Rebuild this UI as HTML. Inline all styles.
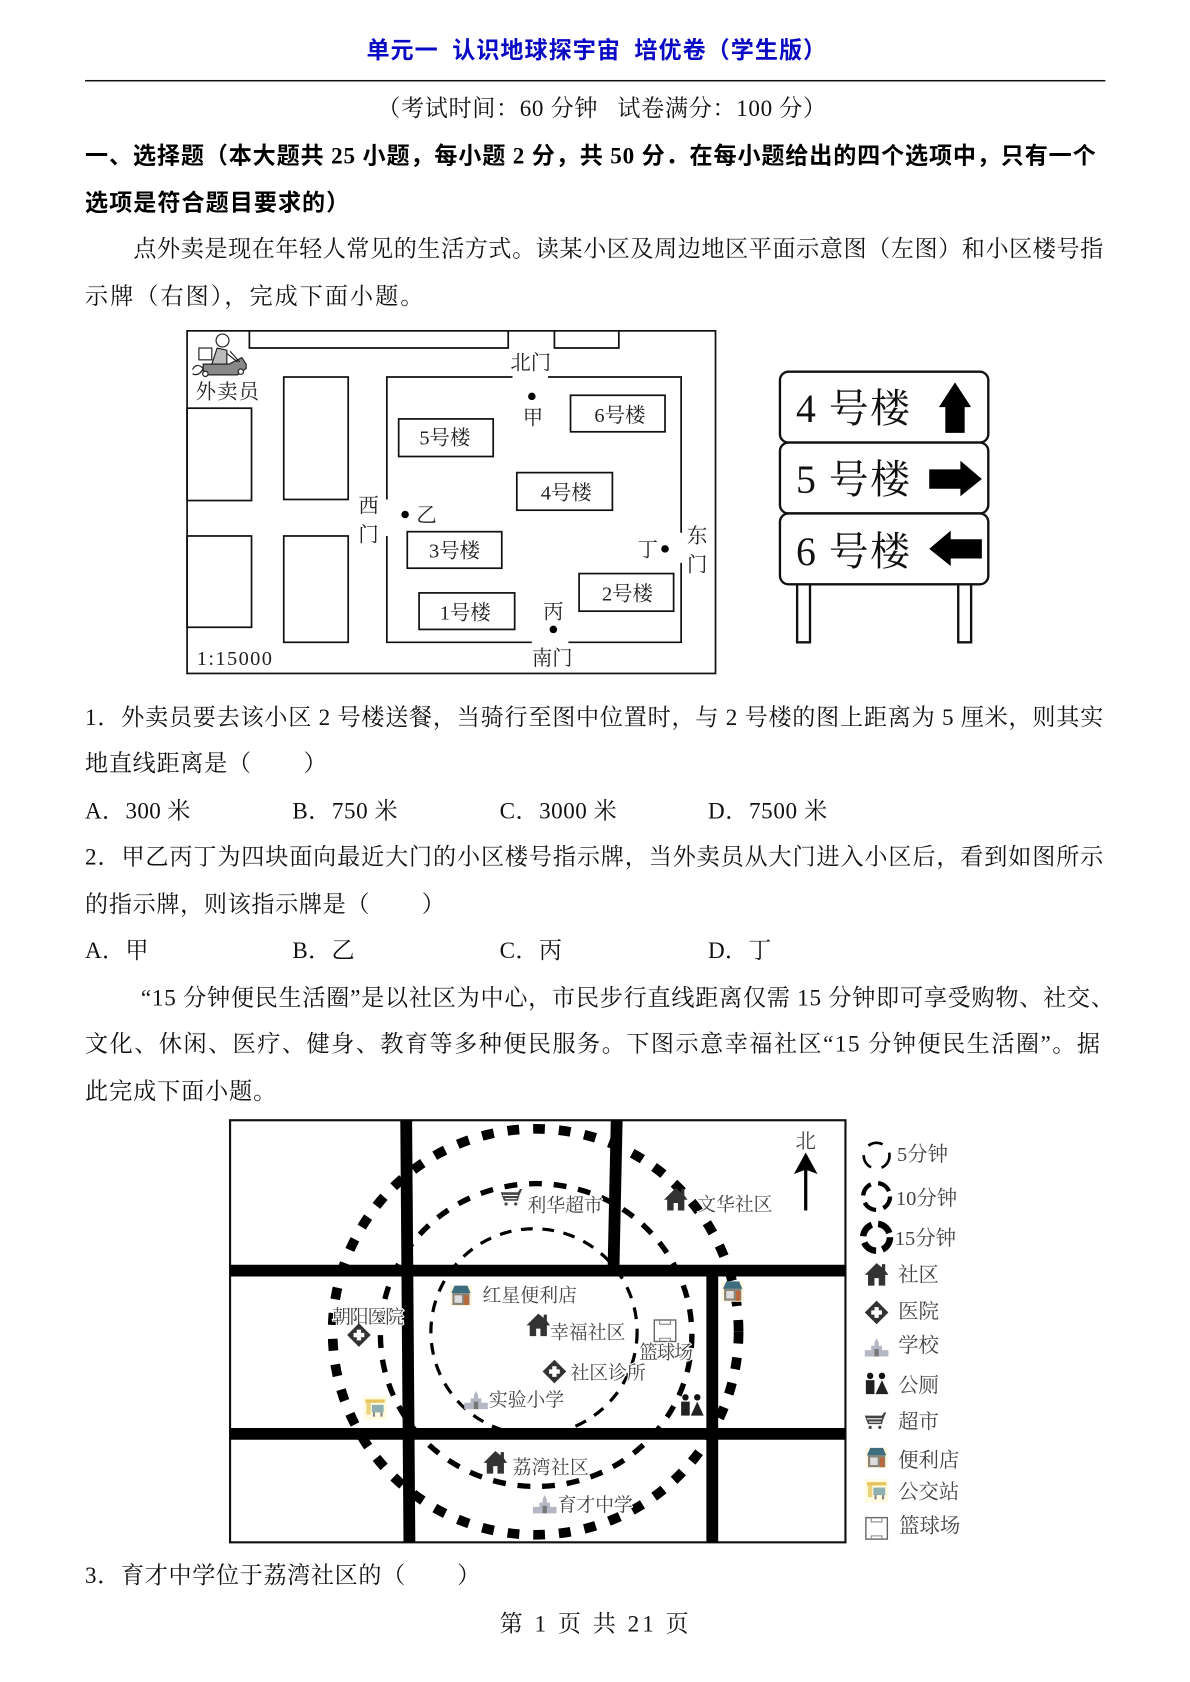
<!DOCTYPE html>
<html lang="zh"><head><meta charset="utf-8"><title>单元一 认识地球探宇宙 培优卷</title>
<style>
html,body{margin:0;padding:0;background:#fff;width:1190px;height:1682px;overflow:hidden}
svg{display:block}
text{font-family:"Liberation Serif","Noto Serif CJK SC",serif;font-size:21.5px;fill:#111;white-space:pre}
.b{font-weight:bold;font-family:"Liberation Serif","Noto Sans CJK SC",serif;fill:#000}
.m{font-size:19px;fill:#222}
.g{font-size:17.5px;fill:#444;stroke:#fff;stroke-width:2px;paint-order:stroke}
.l{font-size:19px;fill:#444}
.s{font-size:37px;fill:#111}
.w{fill:none;stroke:#111;stroke-width:1.6}
.r{stroke:#000;stroke-width:11;fill:none}
</style></head><body>
<svg width="1190" height="1682" viewBox="0 0 1108 1566" xmlns="http://www.w3.org/2000/svg">
<defs>
<g id="house"><path d="M-11 0L0-11 5-7V-10H8V-4L11 0H8V10H2V3H-2V10H-8V0Z" fill="#333"/></g>
<g id="cross"><path d="M0-11L11 0 0 11-11 0Z" fill="#333"/><path d="M-2-5H2V-2H5V2H2V5H-2V2H-5V-2H-2Z" fill="#fff"/></g>
<g id="cart"><path d="M-9-6H7L9-9H11L8-2 7 2H-6L-9-6Z" fill="#444"/><path d="M-7-3H7M-5 0H6" stroke="#fff" stroke-width="1"/><circle cx="-4" cy="5" r="1.5" fill="#444"/><circle cx="5" cy="5" r="1.5" fill="#444"/></g>
<g id="school"><path d="M-11 9H11V3H5V-1H2V-4L0-8-2-4V-1H-5V3H-11Z" fill="#b5b8c4"/><path d="M-2 2H2V9H-2Z" fill="#777"/></g>
<g id="shop"><rect x="-10" y="-9" width="20" height="19" fill="#fff6dd"/><path d="M-9-2L-6-9H6L9-2Z" fill="#3d6e80"/><rect x="-8" y="-2" width="16" height="11" fill="#8a8378"/><rect x="-6" y="0" width="7" height="7" fill="#ddd"/><rect x="3" y="0" width="4" height="9" fill="#b8683a"/></g>
<g id="bus"><rect x="-11" y="-11" width="22" height="22" fill="#fffbe0"/><rect x="-9" y="-8" width="18" height="3" fill="#e6c45c"/><rect x="-8" y="-5" width="4" height="11" fill="#edd27e"/><rect x="-3" y="-3" width="11" height="7" fill="#8fb0b2"/><rect x="-2" y="4" width="2" height="4" fill="#888"/><rect x="5" y="4" width="2" height="4" fill="#888"/></g>
<g id="court"><rect x="-10" y="-10" width="20" height="20" fill="#fff" stroke="#666" stroke-width="1.3"/><path d="M-5-10V-6H5V-10M-5 10V7H5V10" fill="none" stroke="#888"/></g>
<g id="wc"><circle cx="-6" cy="-8" r="3" fill="#111"/><rect x="-10" y="-4" width="8" height="13" fill="#222"/><circle cx="5" cy="-8" r="3" fill="#111"/><path d="M5-4L11 9H-1Z" fill="#222"/></g>
</defs>

<rect width="1108" height="1566" fill="#fff"/>
<g transform="translate(-0.8,0)">
<text x="342" y="54" textLength="428" class="b" style="fill:#0a0ac4">单元一  认识地球探宇宙  培优卷（学生版）</text>
<rect x="80" y="74.4" width="950" height="1.4" fill="#111"/>
<text x="352" y="108" textLength="418">（考试时间：60 分钟   试卷满分：100 分）</text>
<text x="80" y="152" textLength="941" class="b">一、选择题（本大题共 25 小题，每小题 2 分，共 50 分．在每小题给出的四个选项中，只有一个</text>
<text x="80" y="196" textLength="246" class="b">选项是符合题目要求的）</text>
<text x="125" y="239" textLength="903">点外卖是现在年轻人常见的生活方式。读某小区及周边地区平面示意图（左图）和小区楼号指</text>
<text x="80" y="283" textLength="315">示牌（右图），完成下面小题。</text>

<g transform="translate(0,-1)">
<!-- figure 1 -->
<rect x="175" y="309" width="492" height="319" class="w"/>
<path class="w" d="M233 309V325H474V309M517 309V325H577V309"/>
<rect x="175" y="381" width="60" height="86" class="w"/>
<rect x="265" y="352" width="60" height="114" class="w"/>
<rect x="175" y="500" width="60" height="85" class="w"/>
<rect x="265" y="500" width="60" height="99" class="w"/>
<path class="w" d="M361 466V352H478M511 352H635V497M635 525V599H530M496 599H361V500"/>
<rect x="372" y="391" width="88" height="35" class="w"/><text x="415" y="415" class="m" text-anchor="middle">5号楼</text>
<rect x="532" y="369" width="88" height="34" class="w"/><text x="578" y="394" class="m" text-anchor="middle">6号楼</text>
<rect x="482" y="441" width="89" height="35" class="w"/><text x="528" y="466" class="m" text-anchor="middle">4号楼</text>
<rect x="380" y="496" width="88" height="34" class="w"/><text x="424" y="520" class="m" text-anchor="middle">3号楼</text>
<rect x="391" y="553" width="89" height="34" class="w"/><text x="434" y="578" class="m" text-anchor="middle">1号楼</text>
<rect x="540" y="535" width="88" height="35" class="w"/><text x="585" y="560" class="m" text-anchor="middle">2号楼</text>
<circle cx="496" cy="370" r="3.5" fill="#000"/><circle cx="378" cy="480" r="3.5" fill="#000"/><circle cx="516" cy="587" r="3.5" fill="#000"/><circle cx="620" cy="512" r="3.5" fill="#000"/>
<text x="495" y="345" class="m" text-anchor="middle">北门</text>
<text x="497" y="396" class="m" text-anchor="middle">甲</text>
<text x="344" y="478" class="m" text-anchor="middle">西</text><text x="344" y="505" class="m" text-anchor="middle">门</text>
<text x="398" y="487" class="m" text-anchor="middle">乙</text>
<text x="604" y="519" class="m" text-anchor="middle">丁</text>
<text x="650" y="506" class="m" text-anchor="middle">东</text><text x="650" y="533" class="m" text-anchor="middle">门</text>
<text x="516" y="577" class="m" text-anchor="middle">丙</text>
<text x="515" y="620" class="m" text-anchor="middle">南门</text>
<text x="184" y="620" class="m" textLength="70">1:15000</text>
<text x="183" y="372" class="m" textLength="59">外卖员</text>
<!-- courier -->
<g fill="none" stroke="#222" stroke-width="1.1">
<circle cx="208" cy="318" r="6"/><path d="M203 325L198 340H212L212 327Z" fill="#bbb"/>
<rect x="186" y="325" width="12" height="11" fill="#fff"/>
<path d="M190 340H214L226 334 230 340V344L222 350H190Z" fill="#888"/><circle cx="192" cy="349" r="2.5" fill="#fff"/><circle cx="225" cy="347" r="2.5" fill="#fff"/>
<path d="M212 330L222 338M215 328L224 338M180 345Q184 338 190 344Q186 352 180 349"/>
</g>

<!-- signs -->
<g fill="#fff" stroke="#111" stroke-width="2.2">
<rect x="743" y="545" width="12" height="54"/><rect x="893" y="545" width="12" height="54"/>
<rect x="727" y="347" width="194" height="66" rx="8"/><rect x="727" y="413" width="194" height="66" rx="8"/><rect x="727" y="479" width="194" height="66" rx="8"/>
</g>
<text x="742" y="394" class="s" textLength="106">4 号楼</text>
<text x="742" y="460" class="s" textLength="106">5 号楼</text>
<text x="742" y="527" class="s" textLength="106">6 号楼</text>
<path d="M881 404V380H875L890 357 905 380H899V404Z" fill="#000"/>
<path d="M866 438H895V430L915 447 895 463V456H866Z" fill="#000"/>
<path d="M915 503H886V495L866 512 886 528V521H915Z" fill="#000"/>

<!-- Q1, Q2 -->
<text x="80" y="676" textLength="948">1．外卖员要去该小区 2 号楼送餐，当骑行至图中位置时，与 2 号楼的图上距离为 5 厘米，则其实</text>
<text x="80" y="719" textLength="225">地直线距离是（        ）</text>
<text x="80" y="763" textLength="98">A．300 米</text><text x="273" y="763" textLength="98">B．750 米</text><text x="466" y="763" textLength="109">C．3000 米</text><text x="660" y="763" textLength="111">D．7500 米</text>
<text x="80" y="806" textLength="948">2．甲乙丙丁为四块面向最近大门的小区楼号指示牌，当外卖员从大门进入小区后，看到如图所示</text>
<text x="80" y="850" textLength="335">的指示牌，则该指示牌是（        ）</text>
<text x="80" y="893" textLength="59">A．甲</text><text x="273" y="893" textLength="58">B．乙</text><text x="466" y="893" textLength="58">C．丙</text><text x="660" y="893" textLength="59">D．丁</text>
<text x="132" y="937" textLength="906">“15 分钟便民生活圈”是以社区为中心，市民步行直线距离仅需 15 分钟即可享受购物、社交、</text>
<text x="80" y="980" textLength="945">文化、休闲、医疗、健身、教育等多种便民服务。下图示意幸福社区“15 分钟便民生活圈”。据</text>
<text x="80" y="1024" textLength="178">此完成下面小题。</text>

<!-- figure 2 -->
<circle cx="498" cy="1241" r="96" fill="none" stroke="#000" stroke-width="3" stroke-dasharray="11 9"/>
<ellipse cx="500" cy="1244" rx="145" ry="141" fill="none" stroke="#000" stroke-width="5" stroke-dasharray="12 11"/>
<circle cx="499.5" cy="1241" r="189" fill="none" stroke="#000" stroke-width="9" stroke-dasharray="11 13"/>
<rect x="215" y="1044" width="573" height="393" fill="none" stroke="#111" stroke-width="2"/>
<path class="r" d="M379 1044L382 1437M575 1044L572 1184M664 1184V1437M215 1184H788M215 1336H788"/>
<text x="492" y="1129" class="g" textLength="70">利华超市</text><use href="#cart" x="476" y="1117"/>
<text x="650" y="1128" class="g" textLength="70">文华社区</text><use href="#house" x="630" y="1118"/>
<text x="450" y="1213" class="g" textLength="88">红星便利店</text><use href="#shop" x="430" y="1207"/>
<text x="513" y="1247" class="g" textLength="70">幸福社区</text><use href="#house" x="502" y="1235"/>
<use href="#court" x="620" y="1240"/><text x="596" y="1266" class="g" textLength="50">篮球场</text>
<text x="532" y="1285" class="g" textLength="70">社区诊所</text><use href="#cross" x="517" y="1278"/>
<text x="456" y="1310" class="g" textLength="70">实验小学</text><use href="#school" x="444" y="1304"/>
<text x="310" y="1233" class="g" textLength="67">朝阳医院</text><use href="#cross" x="335" y="1244"/>
<use href="#bus" x="350" y="1312"/><use href="#wc" x="645" y="1310"/><use href="#shop" x="683" y="1203"/>
<text x="478" y="1373" class="g" textLength="71">荔湾社区</text><use href="#house" x="462" y="1363"/>
<text x="520" y="1408" class="g" textLength="70">育才中学</text><use href="#school" x="508" y="1401"/>
<text x="751" y="1070" class="l" text-anchor="middle">北</text>
<path d="M751 1128V1090" stroke="#000" stroke-width="3"/><path d="M751 1074L762 1094 751 1090 740 1094Z" fill="#000"/>

<!-- legend -->
<g fill="none" stroke="#000">
<circle cx="817" cy="1077" r="12" stroke-width="2.5" stroke-dasharray="14 10"/>
<circle cx="817" cy="1115" r="12.5" stroke-width="4" stroke-dasharray="13 7"/>
<circle cx="817" cy="1153" r="12.5" stroke-width="6" stroke-dasharray="14 6"/>
</g>
<text x="836" y="1082" class="l">5分钟</text>
<text x="835" y="1123" class="l">10分钟</text>
<text x="834" y="1160" class="l">15分钟</text>
<use href="#house" x="817" y="1188"/><text x="837" y="1194" class="l">社区</text>
<use href="#cross" x="817" y="1223"/><text x="837" y="1228" class="l">医院</text>
<use href="#school" x="817" y="1255"/><text x="837" y="1260" class="l">学校</text>
<use href="#wc" x="817" y="1290"/><text x="837" y="1297" class="l">公厕</text>
<use href="#cart" x="815" y="1325"/><text x="837" y="1331" class="l">超市</text>
<use href="#shop" x="817" y="1358"/><text x="837" y="1367" class="l">便利店</text>
<use href="#bus" x="817" y="1389"/><text x="837" y="1396" class="l">公交站</text>
<use href="#court" x="817" y="1424"/><text x="838" y="1428" class="l">篮球场</text>

<text x="80" y="1475" textLength="368">3．育才中学位于荔湾社区的（        ）</text>
<text x="466" y="1520" textLength="176">第 1 页 共 21 页</text>
</g>
</g>
</svg>
</body></html>
